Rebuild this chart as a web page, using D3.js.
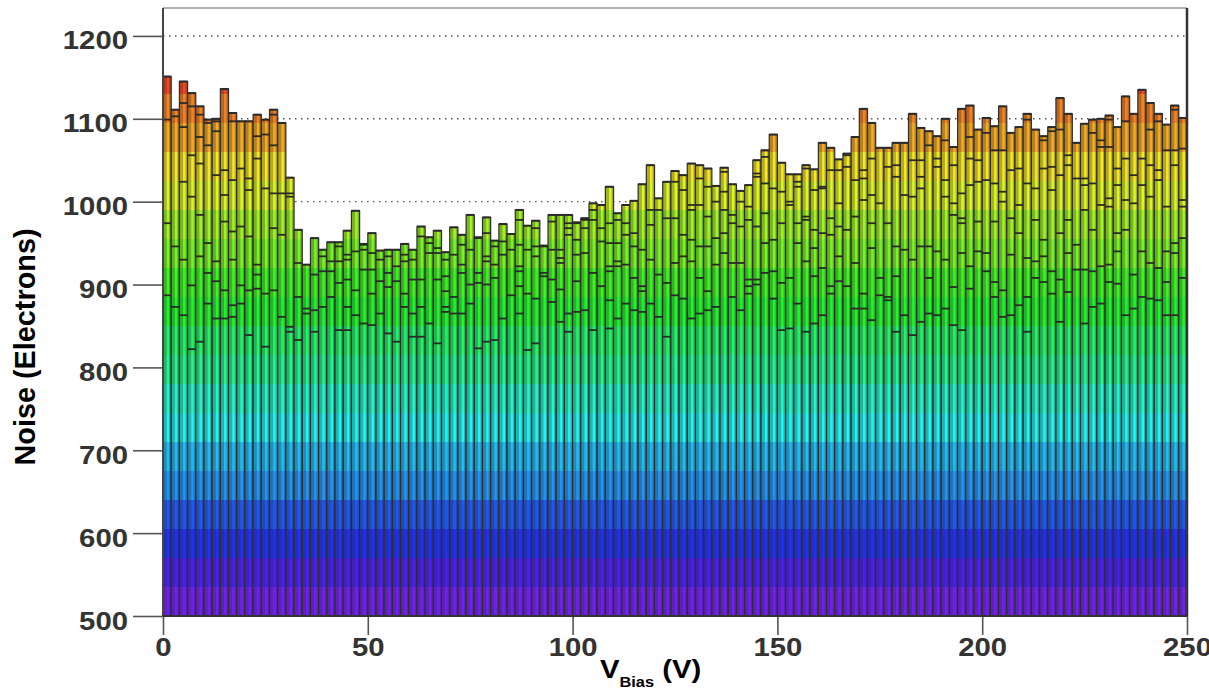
<!DOCTYPE html>
<html><head><meta charset="utf-8">
<script src="https://cdn.jsdelivr.net/npm/d3@7"></script>
<style>body{margin:0;background:#fff}svg{display:block}</style>
</head><body>
<svg id="c" width="1209" height="690"></svg>
<script>
// ---------------- data ----------------
const binLow = d3.range(0, 250, 2);           // V_Bias bin lower edges (2 V bins)
const binWidthV = 2;
const noiseMax = [
 1151,1111,1145,1131,1115,1099,1100,1136,1107,1097,1097,1105,1099,1111,1095,1029,
 966,924,956,942,951,951,965,989,949,962,941,942,942,949,942,970,
 957,965,939,969,960,984,957,981,953,973,961,990,971,977,947,984,
 984,984,975,980,998,996,1018,986,996,1001,1021,1044,1004,1024,1037,
 1032,1046,1044,1040,1019,1041,1021,1013,1020,1050,1062,1081,1047,1033,1033,1044,
 1039,1071,1065,1051,1058,1078,1112,1095,1065,1065,1071,1071,1106,1089,1085,
 1079,1100,1066,1112,1116,1087,1101,1091,1115,1083,1090,1106,1087,1079,1090,1125,
 1106,1071,1094,1099,1100,1104,1090,1127,1106,1135,1119,1106,1093,1116,1101
];
const noiseSteps = [
 [1099,974,887],[1103,946,873],[1119,1090,1024,930,863],[1115,1056,1006,899,822],
 [1105,1078,1046,984,934,831],[1095,1068,950,914,877],[1097,1085,1032,928,904,859],
 [1038,1008,976,893,859],[1097,1026,964,930,875,861],[1040,970,899,877],
 [1028,1014,958,893,839],[1079,1052,924,912,895],[1081,1016,889,825],
 [1105,1068,1010,968,893],[1010,960,861],[1010,1006,849,843],[926,885,833],
 [871,865],[912,869,843],[934,916,873],[928,916,885],[946,928,902,845],
 [936,930,906,873,845],[940,893,863],[948,942,918,853],[938,918,889,851],
 [930,904,865],[934,914,897,841],[922,904,831],[936,928,889,873],[930,906,865,837],
 [958,906,873,837],[950,938,853],[944,938,906,829],[930,910,892,873,867],
 [936,885,865],[948,924,914,865],[942,900,877],[956,914,902,823],
 [962,934,928,900,831],[946,924,908,833],[952,936,859],[942,887],
 [978,948,922,916,898,865],[942,889,821],[968,946,934,883,829],[946,914,910],
 [976,942,906,879],[942,932,926,894,855],[974,968,960,865,843],
 [974,954,936,904,867],[978,968,938,869],[990,978,914,845],[968,952,898],
 [974,950,922,916,881,847],[978,950,928,922,859],[974,960,924,877],
 [962,946,908,869],[942,898,892,867],[990,972,930,877],[990,912,861],
 [980,902,837],[1024,980,926,887],[1014,960,934,883],[996,990,954,928,859],
 [1028,996,946,908,865],[1018,982,946,892,869],[1000,956,924,873],
 [1036,1012,990,962,938],[984,974,926,885],[1000,970,926,869],
 [994,978,906,898,889],[1034,1030,970,906,900],[1054,1022,986,950,914],
 [1016,954,916,883],[1012,974,902,845],[1000,996,908,847],
 [1024,1018,974,950,877],[1040,982,978,928,843],[1014,966,944,910,853],
 [1018,1016,962,920,863],[1038,980,960,898,889],[1038,998,970,934,904],
 [1056,1042,966,898],[1026,982,926,871],[1038,1028,1002,889,871],
 [1052,1008,974,944,857],[998,908,887],[1042,974,885,881],
 [1044,1030,946,910,843],[1008,942,863],[1050,1006,930,839],
 [1050,1030,1016,946,855],[1068,946,908,865],[1052,1042,940,863],
 [1074,1026,1006,930,871],[1044,998,984,897,851],[1010,980,974,938,845],
 [1078,1052,1020,922,895],[1050,1024,976,940],[1083,1026,938,916],
 [1062,1022,976,903,885],[1062,1012,1000,893,861],[1038,980,936,863],
 [1040,996,962,875],[1099,1022,932,885,843],[1016,978,928,908],
 [1074,1040,954,934,903],[1085,1042,1014,916,889],[1087,1032,962,906,855],
 [1056,1044,978,938,891],[1028,948,918],[1028,1020,990,918,853],
 [1083,1022,966,916,873],[1074,1066,996,922,877],[1099,1066,1004,994,924,903],
 [1040,1020,962,940,901],[1097,1052,1002,966,863],[1032,998,912,871],
 [1052,1020,940,885],[1087,1044,1006,926,883],[1097,1038,1026,920,881],
 [1062,994,940,903,863],[1111,1062,1044,950,938,863],[1064,1002,994,956,908]
];
const yMajor = [500,600,700,800,900,1000,1100,1200];
const yMinor = d3.range(500, 1221, 20);
const xMajor = [0,50,100,150,200,250];
const xMinor = d3.range(0, 251, 10);
const levelCount = 20;

// ---------------- drawing ----------------
const svg = d3.select("#c");
const x = d3.scaleLinear().domain([0, 250]).range([163, 1187]);
const y = d3.scaleLinear().domain([500, 1233.7]).range([616, 8]);

// ROOT "pretty" palette (hue 280 -> 0), 20 contour levels
const hues = d3.range(levelCount).map(i => {
  const j = Math.floor((i + 0.99) * 50 / levelCount);
  return 280 - (j + 1) * 5.6;
});
const defs = svg.append("defs");
function grad(id, s, l) {
  const g = defs.append("linearGradient").attr("id", id)
    .attr("gradientUnits", "userSpaceOnUse")
    .attr("x1", 0).attr("x2", 0).attr("y1", y(500)).attr("y2", y(1200));
  hues.forEach((h, i) => {
    const c = d3.hsl(h, s, l).formatHex();
    g.append("stop").attr("offset", i / levelCount).attr("stop-color", c);
    g.append("stop").attr("offset", (i + 1) / levelCount).attr("stop-color", c);
  });
}
grad("face", 0.68, 0.42);
grad("lite", 0.92, 0.54);

// dotted grid
svg.append("g").selectAll("line").data(yMajor.slice(1)).join("line")
  .attr("x1", x(0)).attr("x2", x(250))
  .attr("y1", d => y(d)).attr("y2", d => y(d))
  .attr("stroke", "#555").attr("stroke-width", 1.4)
  .attr("stroke-dasharray", "1.5,4.5");

const bw = x(binWidthV) - x(0);
const bars = svg.append("g").selectAll("g").data(binLow).join("g");
bars.append("rect")
  .attr("x", d => x(d)).attr("y", (d, i) => y(noiseMax[i]))
  .attr("width", bw).attr("height", (d, i) => y(500) - y(noiseMax[i]))
  .attr("fill", "url(#face)");
bars.append("rect")
  .attr("x", d => x(d) + bw * 0.45).attr("y", (d, i) => y(noiseMax[i]))
  .attr("width", bw * 0.3).attr("height", (d, i) => y(500) - y(noiseMax[i]))
  .attr("fill", "url(#lite)");
bars.append("rect")
  .attr("x", d => x(d)).attr("y", (d, i) => y(noiseMax[i]))
  .attr("width", bw).attr("height", (d, i) => y(500) - y(noiseMax[i]))
  .attr("fill", "none").attr("stroke", "#2e2e2e").attr("stroke-width", 1.2);
bars.each(function (d, i) {
  d3.select(this).selectAll("line.st").data(noiseSteps[i]).join("line")
    .attr("class", "st")
    .attr("x1", x(d)).attr("x2", x(d) + bw)
    .attr("y1", v => y(v)).attr("y2", v => y(v))
    .attr("stroke", "#2a2a2a").attr("stroke-width", 1.8);
});
// top edges a bit heavier
bars.append("line")
  .attr("x1", d => x(d)).attr("x2", d => x(d) + bw)
  .attr("y1", (d, i) => y(noiseMax[i])).attr("y2", (d, i) => y(noiseMax[i]))
  .attr("stroke", "#2a2a2a").attr("stroke-width", 2);

// axes
const fontFam = "'Liberation Sans', Arial, Helvetica, sans-serif";
const gy = svg.append("g").attr("transform", `translate(${x(0)},0)`);
gy.call(d3.axisLeft(y).tickValues(yMinor).tickSize(15).tickFormat(""));
gy.call(d3.axisLeft(y).tickValues(yMajor).tickSize(30).tickPadding(5).tickFormat(d3.format("d")));
gy.selectAll(".domain").remove();
gy.selectAll("line").attr("stroke", "#555").attr("stroke-width", 1.6);
gy.selectAll("text").attr("font-family", fontFam).attr("font-weight", "bold")
  .attr("font-size", 25).attr("fill", "#333").attr("dy", "0.52em")
  .attr("textLength", d => String(d).length * 16.3).attr("lengthAdjust", "spacingAndGlyphs");

const gx = svg.append("g").attr("transform", `translate(0,${y(500)})`);
gx.call(d3.axisBottom(x).tickValues(xMinor).tickSize(10).tickFormat(""));
gx.call(d3.axisBottom(x).tickValues(xMajor).tickSize(19).tickPadding(3).tickFormat(d3.format("d")));
gx.selectAll(".domain").remove();
gx.selectAll("line").attr("stroke", "#555").attr("stroke-width", 1.6);
gx.selectAll("text").attr("font-family", fontFam).attr("font-weight", "bold")
  .attr("font-size", 25).attr("fill", "#333")
  .attr("textLength", d => String(d).length * 16.3).attr("lengthAdjust", "spacingAndGlyphs");

// frame
svg.append("line").attr("x1", x(0)).attr("x2", x(250)).attr("y1", y.range()[1]).attr("y2", y.range()[1])
  .attr("stroke", "#666").attr("stroke-width", 1.2);
svg.append("line").attr("x1", x(0)).attr("x2", x(0)).attr("y1", y.range()[1]).attr("y2", y(500))
  .attr("stroke", "#444").attr("stroke-width", 2);
svg.append("line").attr("x1", x(250)).attr("x2", x(250)).attr("y1", y.range()[1]).attr("y2", y(500))
  .attr("stroke", "#333").attr("stroke-width", 2.5);
svg.append("line").attr("x1", x(0)).attr("x2", x(250)).attr("y1", y(500)).attr("y2", y(500))
  .attr("stroke", "#333").attr("stroke-width", 2);

// titles
svg.append("text")
  .attr("transform", "translate(35,347) rotate(-90)")
  .attr("text-anchor", "middle")
  .attr("font-family", fontFam).attr("font-weight", "bold").attr("font-size", 29)
  .attr("fill", "#000").attr("textLength", 237).attr("lengthAdjust", "spacingAndGlyphs")
  .text("Noise (Electrons)");

const xt = svg.append("text")
  .attr("transform", "translate(600,678) scale(1.17,1)")
  .attr("font-family", fontFam).attr("font-weight", "bold").attr("fill", "#000");
xt.append("tspan").attr("font-size", 25).text("V");
xt.append("tspan").attr("font-size", 14).attr("dy", 9).text("Bias");
xt.append("tspan").attr("font-size", 25).attr("dy", -9).text(" (V)");
</script>
</body></html>
